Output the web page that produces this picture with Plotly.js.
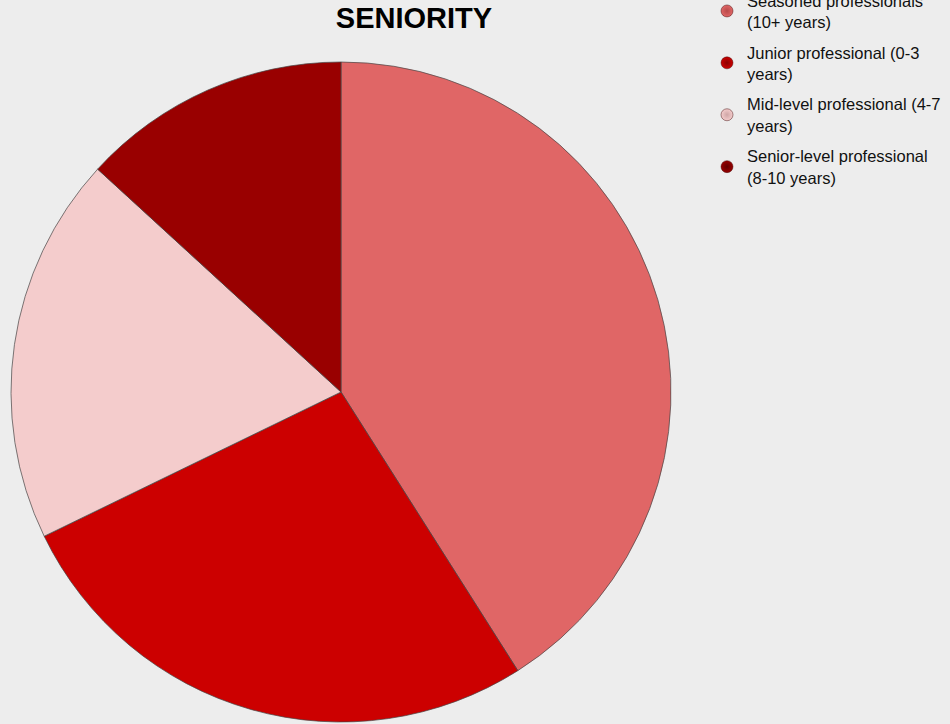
<!DOCTYPE html>
<html>
<head>
<meta charset="utf-8">
<script src="https://cdn.plot.ly/plotly-3.0.1.min.js"></script>
<style>html,body{margin:0;padding:0;background:#ededed;overflow:hidden;}#chart{width:950px;height:746px;margin-top:-22px;}</style>
</head>
<body>
<div id="chart"></div>
<script>
const categories = [
  "Seasoned professionals<br>(10+ years)",
  "Junior professional (0-3<br>years)",
  "Mid-level professional (4-7<br>years)",
  "Senior-level professional<br>(8-10 years)"
];
const shares = [41, 26.8, 19, 13.2];
const sliceColors = ["#e06666", "#cc0000", "#f4cccc", "#990000"];
const markerEdges = ["#b84a4a", "#8a0000", "#cfa6a6", "#600000"];

const H = 746, OFF = 22;
const traces = [{
  type: "pie",
  labels: categories,
  values: shares,
  sort: false,
  direction: "clockwise",
  rotation: 0,
  textinfo: "none",
  hoverinfo: "label+percent",
  showlegend: false,
  marker: {colors: sliceColors, line: {color: "rgba(70,70,70,0.7)", width: 1}},
  domain: {x: [11/950, 671/950], y: [(H - 722 - OFF)/H, (H - 62 - OFF)/H]}
}];
categories.forEach((c, i) => {
  traces.push({
    type: "scatter", mode: "markers", x: [null], y: [null],
    name: c, showlegend: true, legendgroup: "g" + i,
    marker: {symbol: "circle", size: 12, color: sliceColors[i],
             gradient: {type: "radial", color: markerEdges[i]},
             line: {color: "rgba(60,0,0,0.45)", width: 1}}
  });
});

const layout = {
  width: 950, height: H,
  paper_bgcolor: "#ededed", plot_bgcolor: "#ededed",
  margin: {l: 0, r: 0, t: 0, b: 0},
  font: {family: "Liberation Sans, Arial, sans-serif", color: "#111"},
  title: {text: "<b>SENIORITY</b>", font: {size: 29, color: "#000"}, xref: "paper", x: 414/950, xanchor: "center", yref: "container", y: 1 - (18 + OFF)/H, yanchor: "middle"},
  xaxis: {visible: false, domain: [0.99, 1]},
  yaxis: {visible: false, domain: [0.99, 1]},
  legend: {x: 707/950, xanchor: "left", y: 1 - 5/H, yanchor: "top", font: {size: 16.5, color: "#111"}, bgcolor: "rgba(0,0,0,0)", itemwidth: 30, tracegroupgap: 6}
};
Plotly.newPlot("chart", traces, layout, {displayModeBar: false, staticPlot: true});
</script>
</body>
</html>
